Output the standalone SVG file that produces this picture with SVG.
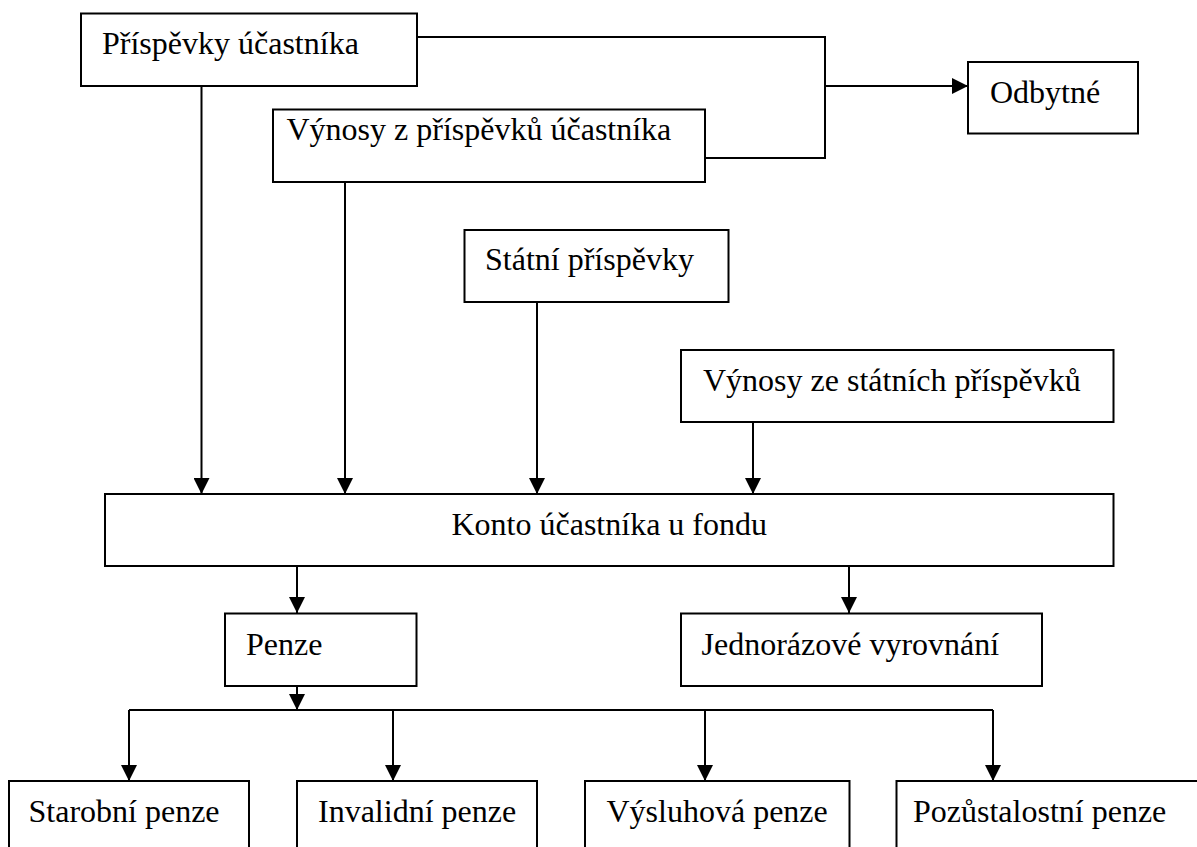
<svg xmlns="http://www.w3.org/2000/svg" width="1197" height="847" viewBox="0 0 1197 847">
<style>
.box{fill:#fff;stroke:#000;stroke-width:2}
.t{font-family:"Liberation Serif","Times New Roman",serif;font-size:32px;fill:#000}
.c{fill:none;stroke:#000;stroke-width:2}
</style>
<defs>
<marker id="ah" markerUnits="userSpaceOnUse" markerWidth="16" markerHeight="16" refX="16" refY="8" orient="auto">
<path d="M0,0 L16,8 L0,16 z" fill="#000"/>
</marker>
</defs>
<rect width="1197" height="847" fill="#fff"/>
<g id="connectors">
<path class="c" d="M417,37 H825 V158 H705"/>
<path class="c" d="M825,86 H968" marker-end="url(#ah)"/>
<path class="c" d="M201.5,86 V494" marker-end="url(#ah)"/>
<path class="c" d="M345,182 V494" marker-end="url(#ah)"/>
<path class="c" d="M537,302 V494" marker-end="url(#ah)"/>
<path class="c" d="M753,422 V494" marker-end="url(#ah)"/>
<path class="c" d="M297,566 V613" marker-end="url(#ah)"/>
<path class="c" d="M849,566 V613" marker-end="url(#ah)"/>
<path class="c" d="M297,686 V710" marker-end="url(#ah)"/>
<path class="c" d="M129,710 H993"/>
<path class="c" d="M129,710 V781" marker-end="url(#ah)"/>
<path class="c" d="M393,710 V781" marker-end="url(#ah)"/>
<path class="c" d="M705,710 V781" marker-end="url(#ah)"/>
<path class="c" d="M993,710 V781" marker-end="url(#ah)"/>
</g>
<g id="n-prispevky-ucastnika">
<rect class="box" x="81" y="13.5" width="336" height="72.5"/>
<text class="t" x="102" y="54">Příspěvky účastníka</text>
</g>
<g id="n-vynosy-z-prispevku">
<rect class="box" x="273" y="109.5" width="432" height="72.5"/>
<text class="t" x="286.5" y="140">Výnosy z příspěvků účastníka</text>
</g>
<g id="n-odbytne">
<rect class="box" x="968" y="62" width="170" height="71.5"/>
<text class="t" x="990" y="103">Odbytné</text>
</g>
<g id="n-statni-prispevky">
<rect class="box" x="464.5" y="230" width="264" height="72"/>
<text class="t" x="485" y="270">Státní příspěvky</text>
</g>
<g id="n-vynosy-ze-statnich">
<rect class="box" x="681" y="350" width="432.5" height="72"/>
<text class="t" x="703" y="391">Výnosy ze státních příspěvků</text>
</g>
<g id="n-konto">
<rect class="box" x="105" y="494" width="1008.5" height="72"/>
<text class="t" x="451.5" y="535">Konto účastníka u fondu</text>
</g>
<g id="n-penze">
<rect class="box" x="225" y="613.5" width="191.5" height="72.5"/>
<text class="t" x="246" y="655">Penze</text>
</g>
<g id="n-jednorazove">
<rect class="box" x="681" y="613.5" width="361" height="72.5"/>
<text class="t" x="701.5" y="655">Jednorázové vyrovnání</text>
</g>
<g id="n-starobni">
<rect class="box" x="9" y="781" width="240" height="90"/>
<text class="t" x="28.5" y="822">Starobní penze</text>
</g>
<g id="n-invalidni">
<rect class="box" x="297" y="781" width="240" height="90"/>
<text class="t" x="318" y="822">Invalidní penze</text>
</g>
<g id="n-vysluhova">
<rect class="box" x="585" y="781" width="264.5" height="90"/>
<text class="t" x="606.5" y="822">Výsluhová penze</text>
</g>
<g id="n-pozustalostni">
<rect class="box" x="896.5" y="781" width="320" height="90"/>
<text class="t" x="913" y="822">Pozůstalostní penze</text>
</g>
</svg>
